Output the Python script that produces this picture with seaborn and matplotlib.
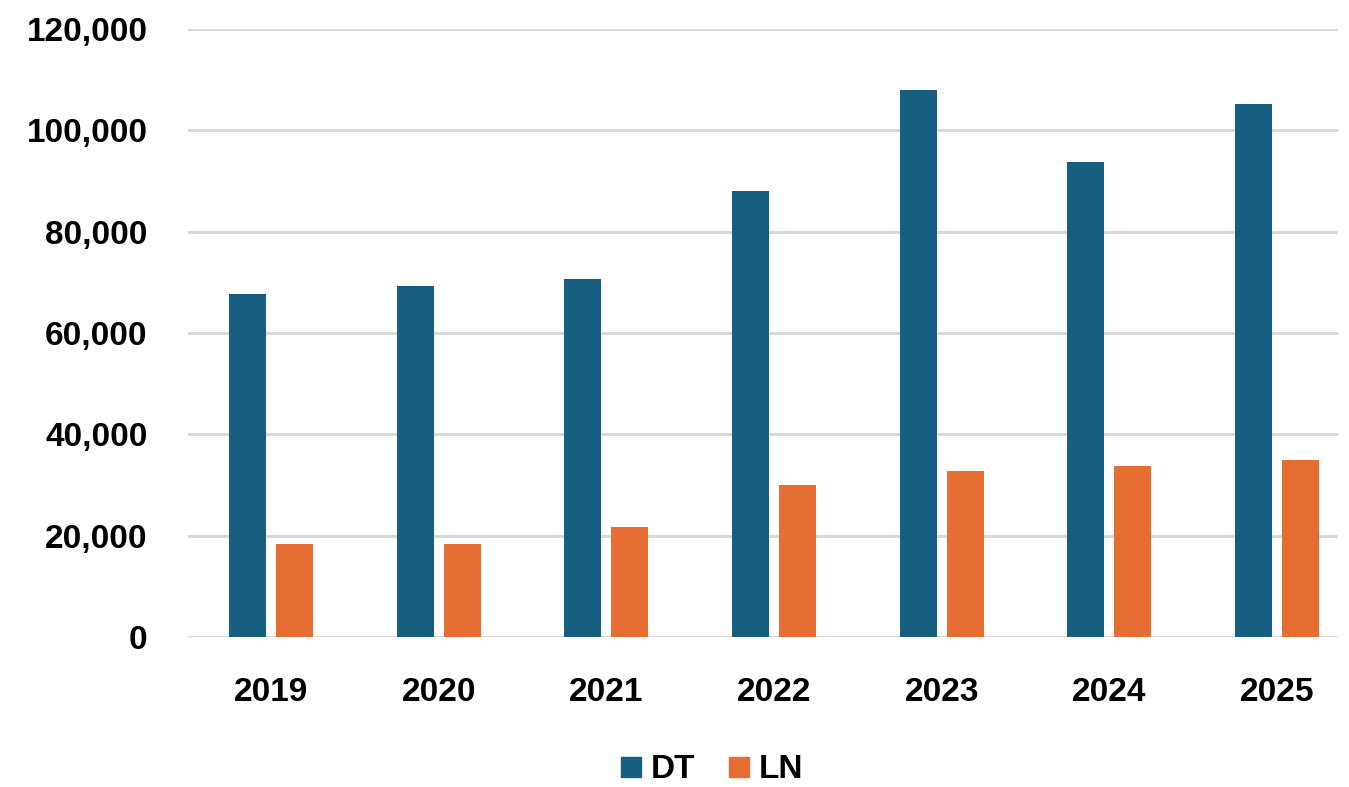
import matplotlib
matplotlib.use("Agg")
import matplotlib.pyplot as plt
import seaborn as sns
import pandas as pd
from matplotlib.ticker import FuncFormatter
from matplotlib.lines import Line2D

years = ["2019", "2020", "2021", "2022", "2023", "2024", "2025"]
dt_values = [67600, 69200, 70600, 88100, 108000, 93700, 105100]
ln_values = [18400, 18400, 21800, 30000, 32800, 33700, 35000]
series_names = ["DT", "LN"]
series_colors = ["#175F80", "#E76E33"]

df = pd.DataFrame({
    "year": years * 2,
    "series": [series_names[0]] * len(years) + [series_names[1]] * len(years),
    "value": dt_values + ln_values,
})

sns.set_theme(style="white")
plt.rcParams["font.family"] = ["Liberation Sans", "DejaVu Sans"]
plt.rcParams["font.weight"] = "bold"
plt.rcParams["text.color"] = "black"
plt.rcParams["xtick.color"] = "black"
plt.rcParams["ytick.color"] = "black"

fig = plt.figure(figsize=(13.49, 7.87), dpi=100)
ax = fig.add_axes([188 / 1349, 1 - 637 / 787, (1338 - 188) / 1349, (637 - 29) / 787])

sns.barplot(data=df, x="year", y="value", hue="series", order=years,
            hue_order=series_names, palette=series_colors, width=0.56,
            gap=0.21, saturation=1, linewidth=0, legend=False, ax=ax)

ax.set_xlim(-0.495, 6.364)
ax.set_ylim(0, 120000)
ax.set_yticks(range(0, 120001, 20000))
ax.yaxis.set_major_formatter(FuncFormatter(lambda v, p: f"{int(v):,}"))
ax.grid(axis="y", color="#D9D9D9", linewidth=2.2)
ax.set_axisbelow(True)
for s in ax.spines.values():
    s.set_visible(False)
ax.set_xlabel("")
ax.set_ylabel("")
ax.tick_params(axis="y", length=0, pad=29, labelsize=24, labelcolor="black")
ax.tick_params(axis="x", length=0, pad=29, labelsize=24, labelcolor="black")
for lbl in ax.get_xticklabels() + ax.get_yticklabels():
    lbl.set_fontweight("bold")

handles = [Line2D([0], [0], marker="s", linestyle="none", markersize=14,
                  markerfacecolor=c, markeredgecolor=c) for c in series_colors]
fig.legend(handles, series_names, loc="center",
           bbox_to_anchor=(709 / 1349, 1 - 770 / 787), ncol=2, frameon=False,
           prop={"size": 24, "weight": "bold"}, handletextpad=0.1,
           columnspacing=0.8, handlelength=1.0)

fig.savefig("out.png", dpi=100)
